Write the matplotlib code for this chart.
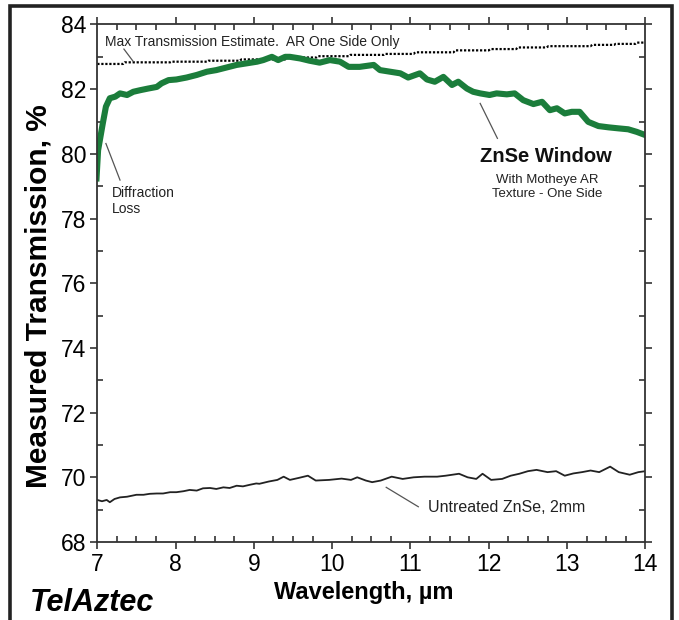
import matplotlib
matplotlib.use('Agg')
import matplotlib.pyplot as plt
from matplotlib.ticker import MultipleLocator
from matplotlib.patches import Rectangle

plt.rcParams['font.family'] = ['Liberation Sans', 'DejaVu Sans']

# ZnSe window with motheye AR texture (green)
wl_ar = [6.99, 7.01, 7.07, 7.11, 7.16, 7.23, 7.29, 7.38, 7.46, 7.55, 7.65, 7.76, 7.82,
         7.91, 8.01, 8.14, 8.27, 8.40, 8.52, 8.65, 8.78, 8.91, 9.04, 9.12, 9.23, 9.31,
         9.40, 9.46, 9.59, 9.71, 9.84, 9.97, 10.10, 10.21, 10.35, 10.53, 10.61, 10.74,
         10.87, 10.97, 11.12, 11.21, 11.31, 11.42, 11.53, 11.61, 11.72, 11.80, 11.89,
         12.01, 12.10, 12.23, 12.33, 12.44, 12.57, 12.68, 12.78, 12.87, 12.97, 13.06,
         13.16, 13.27, 13.40, 13.53, 13.65, 13.78, 13.89, 14.00]
t_ar = [79.24, 80.11, 80.94, 81.46, 81.72, 81.77, 81.87, 81.82, 81.92, 81.97, 82.02,
        82.07, 82.18, 82.28, 82.30, 82.36, 82.44, 82.54, 82.59, 82.67, 82.75, 82.80,
        82.85, 82.90, 83.00, 82.90, 83.00, 83.00, 82.95, 82.88, 82.82, 82.90, 82.85,
        82.69, 82.69, 82.75, 82.59, 82.54, 82.49, 82.36, 82.49, 82.30, 82.23, 82.38,
        82.13, 82.23, 82.02, 81.92, 81.87, 81.82, 81.87, 81.84, 81.87, 81.66, 81.54,
        81.61, 81.35, 81.41, 81.25, 81.30, 81.30, 80.99, 80.86, 80.82, 80.79, 80.76,
        80.68, 80.58]

# max transmission estimate (dotted)
wl_max = [7.0, 7.33, 7.35, 7.93, 7.95, 8.40, 8.42, 8.82, 8.84, 9.40, 9.42, 9.80, 9.82,
          10.21, 10.23, 10.66, 10.68, 11.04, 11.06, 11.55, 11.57, 12.0, 12.02, 12.35,
          12.37, 12.74, 12.76, 13.30, 13.32, 13.60, 13.62, 13.87, 13.89, 14.0]
t_max = [82.78, 82.78, 82.83, 82.83, 82.85, 82.85, 82.88, 82.88, 82.92, 82.92, 82.98,
         82.98, 83.02, 83.02, 83.06, 83.06, 83.09, 83.09, 83.14, 83.14, 83.20, 83.20,
         83.24, 83.24, 83.29, 83.29, 83.33, 83.33, 83.37, 83.37, 83.40, 83.40, 83.44,
         83.44]

# untreated ZnSe, 2mm (black)
wl_raw = [7.0, 7.06, 7.12, 7.16, 7.22, 7.29, 7.38, 7.44, 7.50, 7.59, 7.67, 7.76, 7.84,
          7.93, 8.01, 8.10, 8.18, 8.27, 8.35, 8.44, 8.52, 8.61, 8.69, 8.78, 8.86, 8.95,
          9.03, 9.07, 9.19, 9.30, 9.38, 9.46, 9.57, 9.69, 9.79, 9.96, 10.12, 10.24,
          10.32, 10.43, 10.51, 10.62, 10.76, 10.90, 11.04, 11.18, 11.34, 11.45, 11.62,
          11.73, 11.84, 11.92, 12.03, 12.17, 12.28, 12.39, 12.50, 12.61, 12.75, 12.86,
          12.97, 13.08, 13.19, 13.30, 13.41, 13.55, 13.66, 13.80, 13.91, 14.0]
t_raw = [69.30, 69.26, 69.30, 69.23, 69.33, 69.38, 69.40, 69.43, 69.46, 69.46, 69.49,
         69.50, 69.50, 69.54, 69.54, 69.57, 69.61, 69.59, 69.66, 69.67, 69.64, 69.69,
         69.67, 69.74, 69.72, 69.77, 69.81, 69.80, 69.87, 69.92, 70.02, 69.92, 69.98,
         70.05, 69.90, 69.92, 69.96, 69.92, 70.00, 69.90, 69.85, 69.90, 70.02, 69.95,
         70.00, 70.02, 70.02, 70.05, 70.11, 70.00, 69.95, 70.11, 69.92, 69.95, 70.05,
         70.11, 70.19, 70.23, 70.16, 70.19, 70.05, 70.12, 70.16, 70.21, 70.16, 70.33,
         70.16, 70.08, 70.16, 70.19]

fig = plt.figure(figsize=(6.79, 6.2), dpi=100)
ax = fig.add_axes([0.1433, 0.1258, 0.8072, 0.8347])

ax.plot(wl_max, t_max, color='black', lw=1.6, ls=(0, (1, 0.8)))
ax.plot(wl_ar, t_ar, color='#1b7d3b', lw=4.4, solid_joinstyle='round')
ax.plot(wl_raw, t_raw, color='#222222', lw=1.3)

ax.set_xlim(7, 14)
ax.set_ylim(68, 84)
ax.xaxis.set_major_locator(MultipleLocator(1))
ax.xaxis.set_minor_locator(MultipleLocator(0.25))
ax.yaxis.set_major_locator(MultipleLocator(2))
ax.yaxis.set_minor_locator(MultipleLocator(1))
ax.tick_params(which='major', direction='out', length=5, width=1.2, color='#333333',
               labelsize=16.5, pad=3, top=True, right=True)
ax.tick_params(which='minor', direction='in', length=4, width=1.2, color='#333333',
               top=True, right=True)
for s in ax.spines.values():
    s.set_linewidth(1.3)
    s.set_color('#333333')

ax.set_xlabel('Wavelength, µm', fontsize=17, fontweight='bold')
ax.xaxis.set_label_coords(0.487, -0.075)
ax.set_ylabel('Measured Transmission, %', fontsize=21.5, fontweight='bold')
ax.yaxis.set_label_coords(-0.082, 0.475)

# annotations
ax.text(7.10, 83.46, 'Max Transmission Estimate.  AR One Side Only', fontsize=10,
        va='center', ha='left', color='#222222')
ax.plot([7.34, 7.455], [83.24, 82.87], color='#555555', lw=0.9)

ax.text(7.19, 78.55, 'Diffraction\nLoss', fontsize=10, va='center', ha='left',
        linespacing=1.15, color='#222222')
ax.plot([7.11, 7.29], [80.32, 79.19], color='#555555', lw=0.9)

ax.text(12.73, 79.93, 'ZnSe Window', fontsize=14.5, fontweight='bold', ha='center',
        va='center', color='#111111')
ax.text(12.75, 79.19, 'With Motheye AR', fontsize=9.5, ha='center', va='center',
        color='#222222')
ax.text(12.75, 78.75, 'Texture - One Side', fontsize=9.5, ha='center', va='center',
        color='#222222')
ax.plot([11.89, 12.11], [81.56, 80.48], color='#555555', lw=0.9)

ax.text(11.22, 69.06, 'Untreated ZnSe, 2mm', fontsize=11.5, ha='left', va='center',
        color='#222222')
ax.plot([10.69, 11.10], [69.69, 69.09], color='#555555', lw=0.9)

fig.text(0.044, 0.028, 'TelAztec', fontsize=22, fontweight='bold', fontstyle='italic',
         ha='left', va='center')

fig.add_artist(Rectangle((9.5 / 679, -0.05), (672 - 9.5) / 679, 1 - 6 / 620 + 0.05,
                         transform=fig.transFigure, fill=False, lw=2.6, ec='#222222'))

fig.savefig('out.png', dpi=100)
